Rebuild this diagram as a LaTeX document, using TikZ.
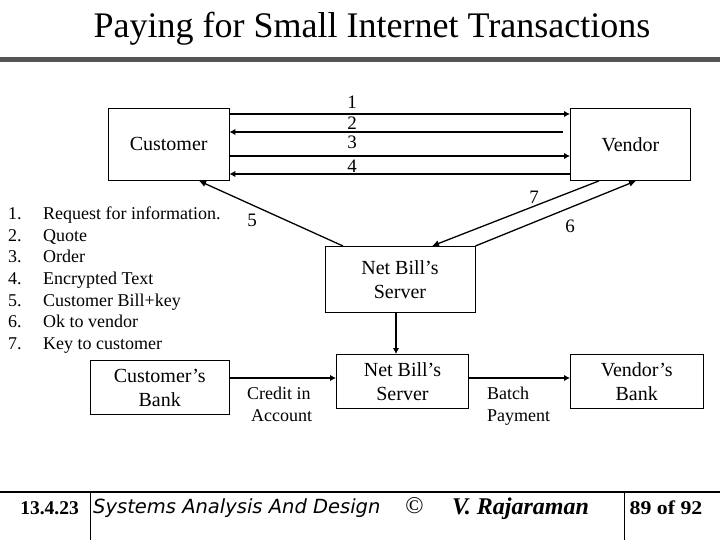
\documentclass[tikz,border=0pt]{standalone}
\usepackage{fontspec}
\setmainfont{Liberation Serif}
\setsansfont{DejaVu Sans}
\usetikzlibrary{arrows.meta}
\tikzset{
  x=1pt,y=-1pt,
  box/.style={draw=black,line width=0.9pt,inner sep=0pt,anchor=north west,align=center,font=\fontsize{20}{24}\selectfont},
  thick arrow/.style={line width=2pt,-{Latex[length=6pt,width=6.5pt]}},
  thin arrow/.style={line width=1.3pt,-{Latex[length=7pt,width=6.5pt]}},
  label/.style={font=\fontsize{19}{19}\selectfont,inner sep=0pt},
  small/.style={font=\fontsize{18}{21.7}\selectfont,inner sep=0pt,align=left},
  lower/.style={font=\fontsize{18}{22}\selectfont,inner sep=0pt,align=left,anchor=north west},
  bar/.style={line width=5pt,draw=black!67},
  hrule/.style={line width=2pt},
  vrule/.style={line width=1pt}
}
\begin{document}
\begin{tikzpicture}
\useasboundingbox (0,0) rectangle (720,540);
\node[font=\fontsize{36}{36}\selectfont,inner sep=0pt] (title) at (372,29) {Paying for Small Internet Transactions};
\coordinate (barL) at (0,60); \coordinate (barR) at (720,60);
\draw[bar] (barL) -- (barR);

\node[box,minimum width=120.5pt,minimum height=72pt] (cust) at (108,108) {Customer};
\node[box,minimum width=120pt,minimum height=72pt] (vend) at (570,108) {Vendor};
\node[box,minimum width=150pt,minimum height=66pt] (nb1) at (324.5,246) {Net Bill's\\Server};
\node[box,minimum width=138.5pt,minimum height=54pt] (cb) at (90,360) {Customer's\\Bank};
\node[box,minimum width=132pt,minimum height=54pt] (nb2) at (336,354) {Net Bill's\\Server};
\node[box,minimum width=132.5pt,minimum height=54pt] (vb) at (570,354) {Vendor's\\Bank};

\draw[thick arrow] (cust.east |- 0,114) -- (vend.west |- 0,114);
\draw[thick arrow] (563,132) -- (cust.east |- 0,132);
\draw[thick arrow] (cust.east |- 0,156) -- (vend.west |- 0,156);
\draw[thick arrow] (vend.west |- 0,174) -- (cust.east |- 0,174);

\draw[thin arrow] (nb1.north west -| 343,0) -- (cust.south west -| 199,0);
\draw[thin arrow] (vend.south west -| 599,0) -- (nb1.north west -| 432,0);
\draw[thin arrow] (nb1.north east) -- (vend.south west -| 636,0);
\draw[thick arrow] (nb1.south -| 396,0) -- (nb2.north -| 396,0);
\draw[thick arrow] (cb.east |- 0,378) -- (nb2.west |- 0,378);
\draw[thick arrow] (nb2.east |- 0,378) -- (vb.west |- 0,378);

\node[label] (n1) at (352,102) {1};
\node[label] (n2) at (352,123) {2};
\node[label] (n3) at (352,142) {3};
\node[label] (n4) at (352,166) {4};
\node[label] (n5) at (252,220) {5};
\node[label] (n6) at (570,226) {6};
\node[label] (n7) at (534,197) {7};

\node[small,anchor=north west] (nums) at (8,204) {\strut 1.\\\strut 2.\\\strut 3.\\\strut 4.\\\strut 5.\\\strut 6.\\\strut 7.};
\node[small,anchor=north west] (list) at (43,204) {\strut Request for information.\\\strut Quote\\\strut Order\\\strut Encrypted Text\\\strut Customer Bill+key\\\strut Ok to vendor\\\strut Key to customer};

\node[lower] (credit) at (247,384) {\strut Credit in\\\strut\hspace{4pt}Account};
\node[lower] (batch) at (487,384) {\strut Batch\\\strut Payment};

\coordinate (footL) at (0,492); \coordinate (footR) at (720,492);
\draw[hrule] (footL) -- (footR);
\coordinate (v1t) at (90,492); \coordinate (v1b) at (90,540);
\coordinate (v2t) at (624.5,492); \coordinate (v2b) at (624.5,540);
\draw[vrule] (v1t) -- (v1b);
\draw[vrule] (v2t) -- (v2b);

\node[font=\bfseries\fontsize{19.5}{19.5}\selectfont,inner sep=0pt] (date) at (49.5,508) {13.4.23};
\node[font=\itshape\sffamily\fontsize{19.5}{19.5}\selectfont,inner sep=0pt,anchor=west] (sys) at (93,508) {Systems Analysis And Design};
\node[font=\fontsize{24}{24}\selectfont,inner sep=0pt] (copy) at (414.5,506) {©};
\node[font=\bfseries\itshape\fontsize{24}{24}\selectfont,inner sep=0pt] (vr) at (520.5,509) {V. Rajaraman};
\node[font=\bfseries\fontsize{19.5}{19.5}\selectfont,inner sep=0pt,xscale=1.12] (pg) at (666,508) {89 of 92};
\end{tikzpicture}
\end{document}
